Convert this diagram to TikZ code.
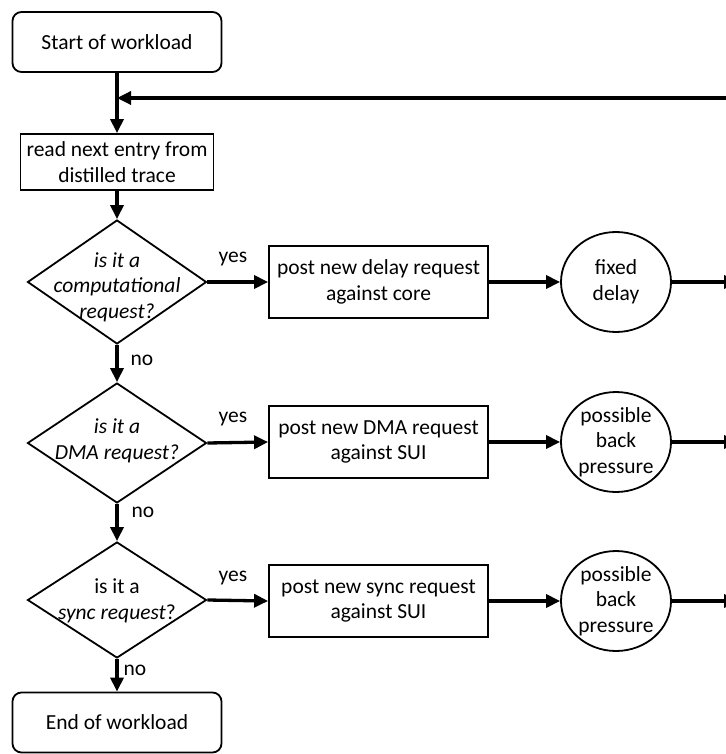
\documentclass[tikz,border=0pt]{standalone}
\usepackage{fontspec}
\setmainfont{Carlito}
\usetikzlibrary{shapes.geometric,arrows.meta}
\begin{document}
\begin{tikzpicture}[x=1pt,y=-1pt,
  every node/.style={font=\fontsize{21.5}{25.5}\selectfont, align=center, inner sep=0pt},
  procbox/.style={draw, line width=1.8pt, rectangle, minimum width=219pt, minimum height=72pt},
  termbox/.style={draw, line width=1.8pt, rectangle, rounded corners=9pt, minimum width=209pt, minimum height=60pt},
  readbox/.style={draw, line width=1.8pt, rectangle, minimum width=193pt, minimum height=56pt},
  decision/.style={draw, line width=1.8pt, diamond, minimum width=179pt},
  waitcirc/.style={draw, line width=1.8pt, ellipse, minimum width=110pt, minimum height=100pt},
  lbl/.style={font=\fontsize{21.5}{25.5}\selectfont},
  arr/.style={line width=3.3pt, -{Triangle[length=14pt,width=13pt]}},
  plain/.style={line width=3.3pt}]
\useasboundingbox (0,0) rectangle (725,754);

% left column
\node[termbox] (start) at (117,42) {Start of workload};
\node[readbox] (read) at (117,162) {read next entry from\\distilled trace};
\node[decision, minimum height=124pt] (d1) at (117,282) {};
\node (d1t) at (117,287) {\itshape is it a\\\itshape computational\\\itshape request?};
\node[decision, minimum height=120pt] (d2) at (117,443) {};
\node (d2t) at (117,441) {\itshape is it a\\\itshape DMA request?};
\node[decision, minimum height=116pt] (d3) at (117,600) {};
\node (d3t) at (117,601) {is it a\\\textit{sync request}?};
\node[termbox] (end) at (117,722.5) {End of workload};

% process boxes
\node[procbox] (b1) at (378.5,282) {post new delay request\\against core};
\node[procbox] (b2) at (378.5,442) {post new DMA request\\against SUI};
\node[procbox] (b3) at (378.5,601) {post new sync request\\against SUI};

% delay circles
\node[waitcirc] (c1) at (616,282) {fixed\\delay};
\node[waitcirc] (c2) at (616,442) {possible\\back\\pressure};
\node[waitcirc] (c3) at (616,601) {possible\\back\\pressure};

% outgoing ends and feedback
\coordinate (o1) at (738,282);
\coordinate (o2) at (738,442);
\coordinate (o3) at (738,601);
\coordinate (fb) at (740,98);

% connectors
\draw[arr] (start) -- (read);
\draw[arr] (fb) -- (fb -| read.north);
\draw[arr] (read) -- (d1);
\draw[arr] (d1) -- (d2);
\draw[arr] (d2) -- (d3);
\draw[arr] (d3) -- (end);

\draw[arr] (d1.east) -- (b1.west);
\draw[arr] (d2.east) -- (b2.west);
\draw[arr] (d3.east) -- (b3.west);
\draw[arr] (b1) -- (c1);
\draw[arr] (b2) -- (c2);
\draw[arr] (b3) -- (c3);
\draw[arr] (c1) -- (o1);
\draw[arr] (c2) -- (o2);
\draw[arr] (c3) -- (o3);

% labels
\node[lbl] (y1) at (233,259) {yes};
\node[lbl] (y2) at (233,419) {yes};
\node[lbl] (y3) at (233,578) {yes};
\node[lbl] (n1) at (142,360) {no};
\node[lbl] (n2) at (143,512) {no};
\node[lbl] (n3) at (135,670) {no};
\end{tikzpicture}
\end{document}
